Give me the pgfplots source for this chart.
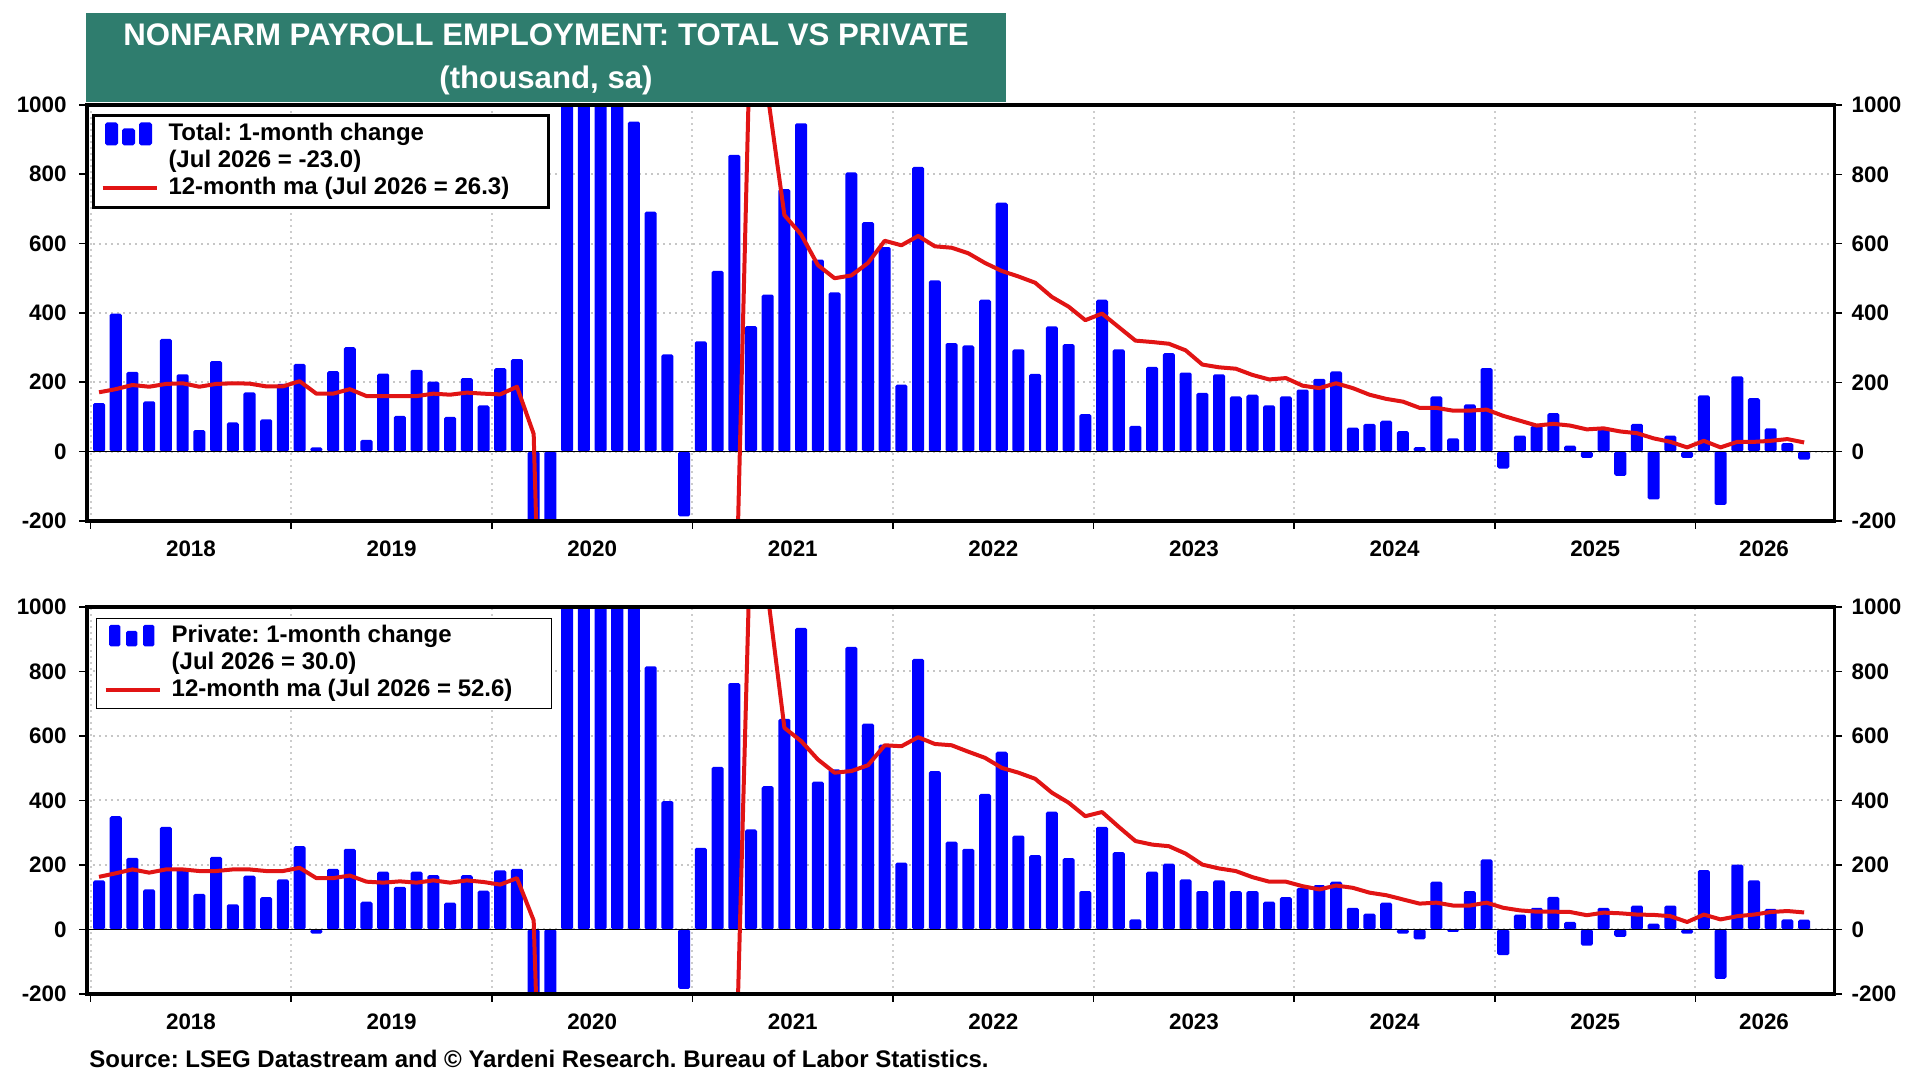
\documentclass[border=0pt]{standalone}
\usepackage{fontspec}
\setmainfont{Liberation Sans}
\usepackage{pgfplots}
\usepackage{pgfplotstable}
\pgfplotsset{compat=1.18}
\definecolor{ttl}{RGB}{47,125,110}
\definecolor{barblue}{RGB}{0,0,255}
\definecolor{mared}{RGB}{225,20,20}
\frenchspacing

\pgfplotstableread{
x tot totma prv prvma
0.5 140 171 152 163
1.5 398 180 351 174
2.5 230 192 222 186
3.5 145 187 124 176
4.5 325 195 318 186
5.5 223 197 187 186
6.5 62 187 110 181
7.5 261 195 225 181
8.5 84 197 78 186
9.5 171 196 167 186
10.5 93 188 100 181
11.5 195 188 155 181
12.5 253 203 258 191
13.5 12 167 -13 159
14.5 232 167 188 159
15.5 301 180 250 167
16.5 34 160 86 148
17.5 225 160 179 145
18.5 103 160 132 149
19.5 236 160 179 145
20.5 202 167 168 152
21.5 100 164 83 145
22.5 212 170 168 152
23.5 133 167 120 147
24.5 241 165 183 139
25.5 267 187 188 159
26.5 -1400 51 -1400 28
27.5 -20500 -1650 -19800 -1620
28.5 2800 -1420 3300 -1380
29.5 4600 -1050 4400 -1030
30.5 1700 -930 1400 -920
31.5 1500 -820 1100 -830
32.5 952 -790 1050 -780
33.5 692 -760 816 -740
34.5 280 -760 398 -730
35.5 -187 -800 -184 -760
36.5 318 -780 253 -750
37.5 521 -760 504 -730
38.5 856 -650 764 -640
39.5 362 1300 310 1280
40.5 453 1030 444 1040
41.5 757 682 653 625
42.5 947 626 935 584
43.5 554 538 458 527
44.5 459 500 496 486
45.5 805 508 876 491
46.5 662 544 638 509
47.5 590 608 573 571
48.5 193 595 207 568
49.5 821 622 839 596
50.5 494 592 491 575
51.5 313 588 272 571
52.5 306 572 250 551
53.5 438 544 420 532
54.5 718 521 551 501
55.5 295 505 291 486
56.5 224 487 230 467
57.5 361 446 365 424
58.5 310 418 221 393
59.5 108 379 119 351
60.5 438 398 318 364
61.5 295 359 240 318
62.5 74 320 31 274
63.5 244 316 179 263
64.5 284 311 204 258
65.5 228 292 155 235
66.5 169 251 119 201
67.5 223 243 152 189
68.5 159 239 119 181
69.5 164 221 119 162
70.5 133 208 86 148
71.5 159 212 100 148
72.5 179 190 129 134
73.5 210 183 137 124
74.5 231 197 148 136
75.5 69 183 67 129
76.5 80 164 49 114
77.5 89 152 83 106
78.5 59 144 -13 93
79.5 13 126 -31 80
80.5 159 126 148 83
81.5 38 118 -8 74
82.5 136 118 119 74
83.5 241 121 217 83
84.5 -49 103 -80 67
85.5 46 89 46 59
86.5 74 75 67 55
87.5 111 80 101 55
88.5 17 75 23 54
89.5 -18 64 -50 44
90.5 64 67 67 52
91.5 -70 58 -23 50
92.5 80 53 74 46
93.5 -138 38 18 45
94.5 46 28 74 41
95.5 -18 12 -13 23
96.5 162 31 184 46
97.5 -154 12 -153 31
98.5 217 28 201 41
99.5 154 28 152 46
100.5 67 31 64 54
101.5 24 36 31 57
102.5 -23 26.3 30 52.6
}\nfp

\pgfplotsset{
  panelbase/.style={
    scale only axis,
    width=873.6pt,
    xmin=-0.22, xmax=104.3,
    ymin=-200, ymax=1000,
    ytick={-200,0,200,400,600,800,1000},
    yticklabels={-200,0,200,400,600,800,1000},
    tick align=outside,
    major tick length=4pt,
    major tick style={black, line width=0.8pt},
    tick label style={font=\fontsize{11.2}{12}\selectfont\bfseries, text=black},
  },
  panelmain/.style={
    panelbase,
    axis line style={draw=none},
    ytick pos=left,
    xtick pos=left,
    xtick={0,12,...,96},
    xticklabels={},
    extra x ticks={6,18,30,42,54,66,78,90,100.1},
    extra x tick labels={2018,2019,2020,2021,2022,2023,2024,2025,2026},
    extra x tick style={major tick length=0pt, grid=none,
      xticklabel style={inner sep=0pt, anchor=north, yshift=-10pt}},
    ymajorgrids, xmajorgrids,
    y grid style={gray!45, line width=1pt, dotted},
    x grid style={gray!40, line width=1pt, dotted},
    yticklabel style={inner sep=0pt, anchor=east, xshift=-6pt},
    legend cell align=left,
  },
  panelover/.style={
    panelbase,
    axis line style={line width=1.7pt, black},
    xtick=\empty,
    ytick pos=right,
    yticklabel pos=right,
    yticklabel style={inner sep=0pt, anchor=west, xshift=4.5pt},
  },
  barleg/.style={legend image code/.code={
    \fill[barblue, rounded corners=0.6pt] (2pt,-4.5pt) rectangle (7pt,5.5pt);
    \fill[barblue, rounded corners=0.6pt] (10.5pt,-4.5pt) rectangle (15.5pt,2.5pt);
    \fill[barblue, rounded corners=0.6pt] (19pt,-4.5pt) rectangle (24pt,5.5pt);
  }},
  lineleg/.style={legend image code/.code={
    \draw[mared, line width=2pt] (0pt,0.5pt) -- (27pt,0.5pt);
  }},
}

\begin{document}
\begin{tikzpicture}[x=1pt,y=1pt]
\path[use as bounding box] (0,0) rectangle (960,540);

% title box
\fill[ttl] (43,489) rectangle (503,533.5);
\node[anchor=base, text=white, inner sep=0pt, font=\fontsize{15.6}{16}\selectfont\bfseries] at (273,517.3) {NONFARM PAYROLL EMPLOYMENT: TOTAL VS PRIVATE};
\node[anchor=base, text=white, inner sep=0pt, font=\fontsize{15.6}{16}\selectfont\bfseries] at (273,495.8) {(thousand, sa)};

% ---------- top panel ----------
\begin{axis}[panelmain, at={(43.5pt,279.5pt)}, anchor=south west, height=208pt,
  legend style={at={(rel axis cs:0,1)}, anchor=north west, xshift=2.5pt, yshift=-4.5pt,
    draw=black, line width=1.5pt, fill=white, inner xsep=3.5pt, inner ysep=3.5pt,
    row sep=1.5pt, column sep=5pt,
    font=\fontsize{12}{13.5}\selectfont\bfseries,
    nodes={inner sep=0pt, text height=9pt, text depth=3pt}}]
\addplot[ybar, bar width=0.72, fill=barblue, draw=none, rounded corners=0.8pt, forget plot] table[x=x, y=tot] {\nfp};
\draw[black, line width=0.8pt] (axis cs:-0.22,0) -- (axis cs:104.3,0);
\addplot[mared, line width=2pt, line join=round, forget plot] table[x=x, y=totma] {\nfp};
\addlegendimage{barleg}
\addlegendentry{Total: 1-month change}
\addlegendimage{empty legend}
\addlegendentry{(Jul 2026 = -23.0)}
\addlegendimage{lineleg}
\addlegendentry{12-month ma (Jul 2026 = 26.3)\hspace*{16pt}}
\end{axis}
\begin{axis}[panelover, at={(43.5pt,279.5pt)}, anchor=south west, height=208pt]
\end{axis}

% ---------- bottom panel ----------
\begin{axis}[panelmain, at={(43.5pt,43pt)}, anchor=south west, height=193.5pt,
  legend style={at={(rel axis cs:0,1)}, anchor=north west, xshift=4.5pt, yshift=-5.5pt,
    draw=black, line width=0.7pt, fill=white, inner xsep=3.5pt, inner ysep=3pt,
    row sep=1.5pt, column sep=5pt,
    font=\fontsize{12}{13.5}\selectfont\bfseries,
    nodes={inner sep=0pt, text height=9pt, text depth=3pt}}]
\addplot[ybar, bar width=0.72, fill=barblue, draw=none, rounded corners=0.8pt, forget plot] table[x=x, y=prv] {\nfp};
\draw[black, line width=0.8pt] (axis cs:-0.22,0) -- (axis cs:104.3,0);
\addplot[mared, line width=2pt, line join=round, forget plot] table[x=x, y=prvma] {\nfp};
\addlegendimage{barleg}
\addlegendentry{Private: 1-month change}
\addlegendimage{empty legend}
\addlegendentry{(Jul 2026 = 30.0)}
\addlegendimage{lineleg}
\addlegendentry{12-month ma (Jul 2026 = 52.6)\hspace*{16pt}}
\end{axis}
\begin{axis}[panelover, at={(43.5pt,43pt)}, anchor=south west, height=193.5pt]
\end{axis}

% source
\node[anchor=base west, inner sep=0pt, font=\fontsize{12}{13}\selectfont\bfseries] at (44.5,6.3) {Source: LSEG Datastream and © Yardeni Research. Bureau of Labor Statistics.};
\end{tikzpicture}
\end{document}
